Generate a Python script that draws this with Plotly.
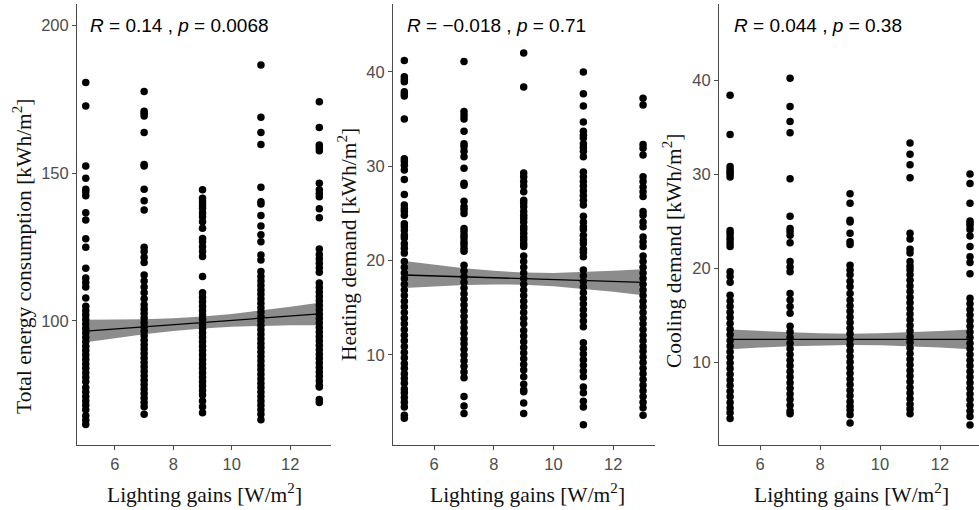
import plotly.graph_objects as go

W, H = 979, 510

# ---------------- data ----------------
lighting_levels = [5, 7, 9, 11, 13]
x_ticks = [6, 8, 10, 12]

# Panel 1: Total energy consumption [kWh/m2]
total_5 = [180.6, 172.6, 152.4, 148.2, 144.5, 143.7, 142.3, 136.6, 134.1, 127.8, 124.9, 117.8, 114.5, 113, 111.5,
           107.8, 105, 103.5, 102, 100.5, 99, 97.5, 96, 94.5, 93, 91.5, 90, 88.5, 87, 85.5, 84, 82.5, 81, 79.5,
           77.5, 76, 74.5, 73, 71.5, 70, 68, 66.5, 65]
total_7 = [177.5, 170.9, 170.2, 169.3, 163.7, 152.9, 152.4, 144.5, 140.6, 137.5, 124.9, 123.5, 121.5, 119.8, 115.5,
           113.5, 111.5, 109.5, 107.5, 105.5, 104, 102.5, 101, 99.5, 98, 96.5, 95, 93.5, 92, 90.5, 89, 87.5, 86,
           84.5, 83, 81.5, 80, 78.5, 77, 75.5, 74, 72.5, 71, 68.5]
total_9 = [144.3, 141.5, 140.3, 139.2, 138.1, 136.6, 135.2, 133.5, 131.3, 127.9, 126.8, 125.1, 123.5, 121.8, 115,
           109.5, 108, 106.5, 105, 103.5, 102, 100.5, 99, 97.5, 96, 94.5, 93, 91.5, 90, 88.5, 87, 85.5, 84, 82.5,
           81, 79.5, 78, 76.5, 75, 73, 71, 69]
total_11 = [186.5, 168.8, 163.7, 159.6, 145.2, 140.3, 139.5, 135.6, 132.1, 129.1, 126.8, 122.3, 120.6, 116.7, 115,
            113.5, 112, 110.5, 109, 107.5, 106, 104.5, 103, 101.5, 100, 98.5, 97, 95.5, 94, 92.5, 91, 89.5, 88,
            86.5, 85, 83.5, 82, 80.5, 79, 77.5, 76, 74.5, 73, 71.5, 70, 68.5, 66.6]
total_13 = [174.1, 165.4, 159.5, 158.6, 157.5, 146.5, 144.3, 143.1, 142, 137.9, 134.9, 124.3, 122.5, 121, 119.5,
            118, 116.5, 112.8, 111.3, 109.8, 108.3, 106.8, 105.3, 103.8, 102.3, 100.8, 99.3, 97.8, 96.3, 94.8,
            93.3, 91.8, 90.3, 88.8, 87.3, 85.8, 84.3, 82.8, 81.3, 79.8, 78.3, 77.7, 73.5, 72.5]

# Panel 2: Heating demand [kWh/m2]
heat_5 = [41.2, 39.5, 39.2, 38.97, 37.9, 37.66, 37.45, 35.0, 30.8, 30.5, 30.1, 29.6, 28.6, 27.0, 25.9, 25.5, 25.2,
          24.8, 23.9, 23.6, 23.2, 22.7, 22.4, 21.8, 21.3, 20.8, 19.9, 19.3, 18.7, 18.1, 17.5, 16.9, 16.3, 15.7,
          15.1, 14.5, 13.9, 13.3, 12.7, 12.1, 11.5, 10.9, 10.3, 9.7, 9.1, 8.6, 8.0, 7.5, 7.0, 6.4, 6.0, 5.5, 5.0,
          4.5, 3.6, 3.3]
heat_7 = [41.1, 35.8, 35.4, 35.0, 33.7, 32.4, 32.1, 31.6, 31.0, 29.8, 28.2, 28.0, 26.3, 25.7, 25.4, 25.0, 23.4,
          23.1, 22.7, 22.4, 22.0, 21.7, 21.3, 21.0, 19.5, 18.9, 18.3, 17.7, 17.1, 16.5, 15.9, 15.3, 14.7, 14.1,
          13.5, 12.9, 12.3, 11.7, 11.2, 10.6, 10.0, 9.4, 8.8, 8.2, 7.6, 5.6, 4.6, 3.8]
heat_9 = [42.0, 38.4, 29.3, 28.9, 28.4, 27.9, 27.3, 26.4, 26.1, 25.7, 25.2, 24.8, 24.5, 24.1, 23.6, 23.3, 22.9,
          22.5, 22.2, 21.8, 21.5, 20.5, 19.9, 19.3, 18.7, 18.1, 17.5, 16.9, 16.3, 15.7, 15.1, 14.5, 13.9, 13.3,
          12.6, 12.0, 11.4, 10.8, 10.2, 9.6, 9.0, 8.4, 7.7, 6.9, 6.3, 6.1, 4.9, 3.8]
heat_11 = [40.0, 37.7, 36.4, 34.7, 33.7, 33.3, 33.0, 32.4, 32.0, 31.6, 31.0, 29.4, 28.9, 28.4, 27.9, 27.4, 26.9,
           26.4, 25.9, 24.7, 24.1, 23.6, 23.3, 22.7, 22.2, 21.8, 21.2, 20.9, 20.4, 19.0, 18.4, 17.8, 17.2, 16.6,
           16.0, 15.4, 14.8, 14.2, 13.6, 13.0, 11.3, 10.7, 10.1, 9.5, 8.9, 8.3, 7.7, 6.6, 6.0, 5.1, 4.5, 2.6]
heat_13 = [37.2, 36.5, 32.3, 31.9, 31.2, 28.9, 28.4, 27.8, 27.3, 26.8, 25.2, 24.8, 24.1, 23.6, 22.5, 22.0, 21.5,
           20.5, 19.9, 19.3, 18.7, 18.1, 17.5, 16.9, 16.3, 15.7, 15.1, 14.5, 13.9, 13.3, 12.7, 12.1, 11.5, 10.9,
           10.4, 9.8, 9.2, 8.6, 8.0, 7.4, 6.8, 6.2, 5.6, 5.0, 4.4, 3.6]

# Panel 3: Cooling demand [kWh/m2]
cool_5 = [38.4, 34.2, 30.8, 30.5, 30.2, 30.0, 29.7, 24.0, 23.7, 23.3, 23.0, 22.6, 22.3, 19.6, 19.1, 18.5, 17.1,
          16.5, 15.9, 15.3, 14.7, 14.1, 13.5, 12.9, 12.3, 11.7, 11.1, 10.5, 9.9, 9.3, 8.7, 8.1, 7.5, 6.9, 6.3,
          5.7, 5.1, 4.6, 4.0]
cool_7 = [40.2, 37.2, 35.6, 34.4, 29.5, 25.5, 24.2, 23.9, 23.5, 22.7, 20.7, 20.1, 19.6, 17.3, 16.6, 15.9, 15.2,
          13.8, 13.2, 12.6, 12.0, 11.4, 10.8, 10.2, 9.6, 9.0, 8.4, 7.8, 7.2, 6.6, 6.0, 5.4, 4.8, 4.5]
cool_9 = [27.9, 26.9, 25.1, 24.9, 23.7, 22.8, 22.5, 20.3, 19.8, 19.3, 18.6, 18.0, 17.3, 16.6, 16.0, 15.4, 14.8,
          14.2, 13.6, 13.0, 12.4, 11.8, 11.2, 10.6, 10.0, 9.4, 8.8, 8.2, 7.6, 7.0, 6.4, 5.8, 5.3, 4.9, 4.4, 3.5]
cool_11 = [33.3, 32.1, 31.0, 29.6, 23.7, 23.1, 22.0, 21.6, 20.7, 20.2, 19.8, 19.3, 18.7, 18.1, 17.5, 16.9, 16.3,
           15.7, 15.1, 14.5, 13.9, 13.3, 12.7, 12.1, 11.5, 10.9, 10.3, 9.7, 9.1, 8.5, 7.9, 7.3, 6.7, 6.1, 5.5,
           5.0, 4.5]
cool_13 = [30.0, 29.0, 26.9, 25.0, 24.8, 24.5, 24.1, 23.4, 22.3, 21.2, 20.6, 19.4, 16.8, 16.2, 15.6, 15.0, 14.4,
           13.8, 13.2, 12.6, 12.0, 11.4, 10.8, 10.2, 9.6, 9.0, 8.4, 7.8, 7.2, 6.6, 6.0, 5.4, 4.8, 4.2, 3.3]

# Linear fits with 95% confidence bands
fit_x = [5, 6, 7, 8, 9, 10, 11, 12, 13]
total_fit = [96.6, 97.33, 98.05, 98.78, 99.5, 100.23, 100.95, 101.68, 102.4]
total_lo = [92.8, 94.19, 95.48, 96.62, 97.5, 98.07, 98.38, 98.54, 98.6]
total_hi = [100.4, 100.47, 100.62, 100.94, 101.5, 102.39, 103.52, 104.82, 106.2]
heat_fit = [18.48, 18.38, 18.29, 18.19, 18.09, 17.99, 17.9, 17.8, 17.7]
heat_lo = [17.1, 17.27, 17.42, 17.48, 17.45, 17.28, 17.02, 16.69, 16.33]
heat_hi = [19.95, 19.55, 19.2, 18.92, 18.73, 18.7, 18.78, 18.92, 19.1]
cool_fit = [12.42, 12.42, 12.42, 12.42, 12.42, 12.42, 12.42, 12.42, 12.42]
cool_lo = [11.37, 11.54, 11.68, 11.78, 11.82, 11.78, 11.68, 11.54, 11.37]
cool_hi = [13.47, 13.30, 13.16, 13.06, 13.02, 13.06, 13.16, 13.30, 13.47]

panels = [
    dict(cols=[total_5, total_7, total_9, total_11, total_13], fit=total_fit, lo=total_lo, hi=total_hi,
         yticks=[100, 150, 200], yrange=[58.1, 207.1], xrange=[4.7, 13.4],
         xpx=(77, 331), stat="<i>R</i> = 0.14 , <i>p</i> = 0.0068", stat_x=88,
         ytitle="Total energy consumption [kWh/m<sup>2</sup>]", ytitle_x=22, ytitle_y=256, xtitle_x=204),
    dict(cols=[heat_5, heat_7, heat_9, heat_11, heat_13], fit=heat_fit, lo=heat_lo, hi=heat_hi,
         yticks=[10, 20, 30, 40], yrange=[0.46, 47.2], xrange=[4.62, 13.4],
         xpx=(393, 655), stat="<i>R</i> = \u22120.018 , <i>p</i> = 0.71", stat_x=405,
         ytitle="Heating demand [kWh/m<sup>2</sup>]", ytitle_x=347, ytitle_y=245, xtitle_x=527),
    dict(cols=[cool_5, cool_7, cool_9, cool_11, cool_13], fit=cool_fit, lo=cool_lo, hi=cool_hi,
         yticks=[10, 20, 30, 40], yrange=[1.17, 48.1], xrange=[4.63, 13.3],
         xpx=(719, 979), stat="<i>R</i> = 0.044 , <i>p</i> = 0.38", stat_x=732,
         ytitle="Cooling demand [kWh/m<sup>2</sup>]", ytitle_x=672, ytitle_y=251, xtitle_x=851),
]

fig = go.Figure()
annotations = []
ydom = [1 - 445 / H, 1 - 4 / H]
axis_col = "#4a4a4a"
tickfont = dict(family="Liberation Sans, Arial", size=16.5, color="#4d4d4d")
serif = dict(family="Liberation Serif, Times New Roman", size=21.5, color="#111111")

for i, p in enumerate(panels):
    n = "" if i == 0 else str(i + 1)
    xa, ya = "x" + n, "y" + n
    # confidence band
    fig.add_trace(go.Scatter(x=fit_x + fit_x[::-1], y=p["hi"] + p["lo"][::-1], fill="toself",
                             fillcolor="#8c8c8c", line=dict(width=0), mode="lines",
                             xaxis=xa, yaxis=ya, hoverinfo="skip", showlegend=False))
    xs, ys = [], []
    for lv, col in zip(lighting_levels, p["cols"]):
        xs += [lv] * len(col)
        ys += col
    fig.add_trace(go.Scatter(x=xs, y=ys, mode="markers", marker=dict(color="black", size=7.5),
                             xaxis=xa, yaxis=ya, showlegend=False, cliponaxis=False))
    fig.add_trace(go.Scatter(x=fit_x, y=p["fit"], mode="lines", line=dict(color="black", width=1.3),
                             xaxis=xa, yaxis=ya, showlegend=False))
    common = dict(showline=True, linecolor=axis_col, linewidth=1, ticks="outside", ticklen=4,
                  tickcolor=axis_col, showgrid=False, zeroline=False, tickfont=tickfont)
    fig.update_layout(**{
        "xaxis" + n: dict(domain=[p["xpx"][0] / W, p["xpx"][1] / W], range=p["xrange"],
                          tickvals=x_ticks, anchor=ya, **common),
        "yaxis" + n: dict(domain=ydom, range=p["yrange"], tickvals=p["yticks"], anchor=xa, **common),
    })
    annotations.append(dict(text=p["stat"], x=p["stat_x"] / W, y=1 - 25 / H, xref="paper", yref="paper",
                            xanchor="left", yanchor="middle", showarrow=False,
                            font=dict(family="Liberation Sans, Arial", size=19, color="black")))
    annotations.append(dict(text=p["ytitle"], x=p["ytitle_x"] / W, y=1 - p["ytitle_y"] / H, xref="paper",
                            yref="paper", xanchor="center", yanchor="middle", textangle=-90,
                            showarrow=False, font=serif))
    annotations.append(dict(text="Lighting gains [W/m<sup>2</sup>]", x=p["xtitle_x"] / W, y=1 - 493 / H,
                            xref="paper", yref="paper", xanchor="center", yanchor="middle",
                            showarrow=False, font=serif))

fig.update_layout(width=W, height=H, margin=dict(l=0, r=0, t=0, b=0), paper_bgcolor="white",
                  plot_bgcolor="white", annotations=annotations, showlegend=False)

fig.write_html("out.html")
